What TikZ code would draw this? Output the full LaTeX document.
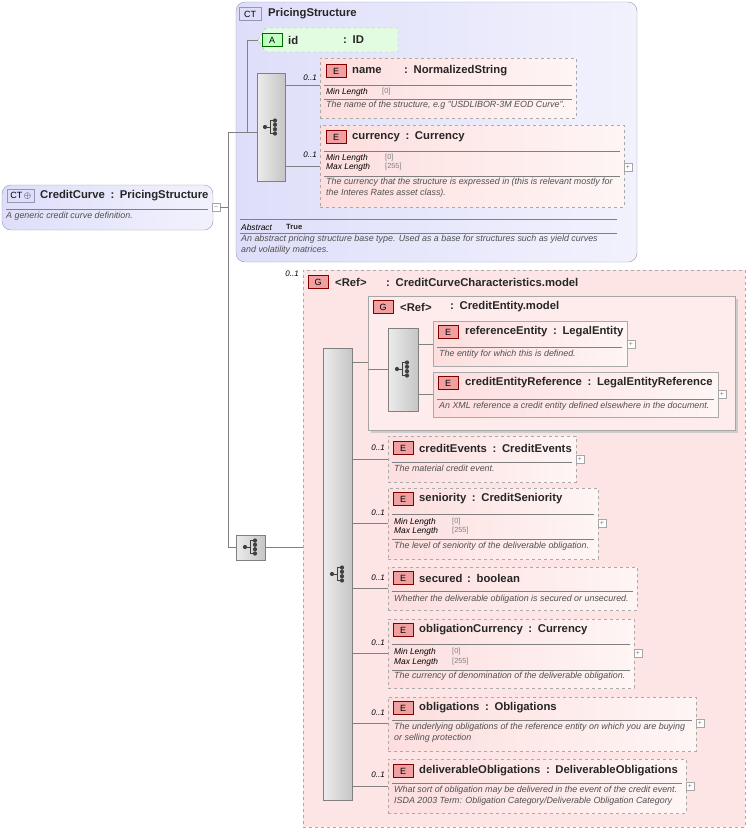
\documentclass[tikz,border=0pt]{standalone}
\usepackage{fontspec}
\setmainfont{Liberation Sans}
\usetikzlibrary{positioning,calc,shapes.geometric}
\definecolor{ctfill}{RGB}{222,222,250}
\definecolor{ctedge}{RGB}{150,150,180}
\definecolor{efill}{RGB}{253,222,222}
\definecolor{eedge}{RGB}{170,170,170}
\definecolor{badgeE}{RGB}{240,160,160}
\definecolor{afill}{RGB}{225,252,225}
\definecolor{txtgray}{RGB}{80,80,80}
\newcommand{\cl}{\enspace:\enspace}
\begin{document}
\begin{tikzpicture}[x=1pt,y=-1pt,
  ct/.style={draw=ctedge,rounded corners=9pt,left color=ctfill,right color=ctfill!40,inner sep=0pt,outer sep=0pt,anchor=north west},
  opt/.style={draw=eedge,dashed,left color=efill,right color=efill!30,inner sep=0pt,outer sep=0pt,anchor=north west},
  req/.style={draw=eedge,line width=0.7pt,left color=efill,right color=efill!30,inner sep=0pt,outer sep=0pt,anchor=north west},
  grp/.style={draw=eedge,dashed,fill=efill!80,inner sep=0pt,outer sep=0pt,anchor=north west},
  seqbar/.style={draw=gray,left color=gray!15,right color=gray!45,inner sep=0pt,outer sep=0pt,anchor=north west},
  badge/.style={draw=red!50!black,fill=badgeE,font=\fontsize{9}{9}\selectfont,minimum width=20pt,minimum height=13pt,inner sep=0pt,anchor=west},
  ttl/.style={font=\fontsize{11.3}{13}\selectfont\bfseries,text=black!85,anchor=west,inner sep=0pt},
  dsc/.style={font=\fontsize{8.9}{10.5}\selectfont\itshape,text=txtgray,anchor=north west,inner sep=0pt,align=left},
  key/.style={font=\fontsize{8.4}{9}\selectfont\itshape,anchor=west,inner sep=0pt},
  val/.style={font=\fontsize{7.4}{8}\selectfont,text=gray,anchor=west,inner sep=0pt},
  occ/.style={font=\fontsize{8}{9}\selectfont\itshape,anchor=east,inner sep=0pt},
  sep/.style={draw=gray,line width=0.4pt},
  link/.style={draw=gray,line width=0.5pt},
  plus/.style={draw=gray!70,fill=white,minimum size=8pt,inner sep=0pt,font=\fontsize{7}{7}\selectfont,text=gray}]
\useasboundingbox (0,0) rectangle (749,831);
\tikzset{seqicon/.pic={
  \fill[black!75] (-6,0) circle (2.1) (4,-6.5) circle (2.1) (4,-2.2) circle (2.1) (4,2.2) circle (2.1) (4,6.5) circle (2.1);
  \draw[black!75,line width=1pt] (-6,0) -- (-1,0) (-1,-6.5) -- (-1,6.5) (-1,-6.5) -- (4,-6.5) (-1,6.5) -- (4,6.5);}}

% CreditCurve
\node[ct,minimum width=211pt,minimum height=45pt] (cc) at (2,185) {};
\node[badge,draw=ctedge,fill=ctfill,minimum width=27pt] (ccb) at (7,196) {CT\,$\oplus$};
\node[ttl] (cct) at (40,196) {CreditCurve\cl PricingStructure};
\draw[sep] (6,209) -- (208,209);
\node[dsc] (ccd) at (6,212) {A generic credit curve definition.};
\node[plus] (ccm) at (216,207) {--};

% PricingStructure
\node[ct,minimum width=401pt,minimum height=260pt] (ps) at (236,2) {};
\node[badge,draw=ctedge,fill=ctfill,minimum width=22pt] (psb) at (239,14) {CT};
\node[ttl] (pst) at (268,14) {PricingStructure};
\draw[dashed,draw=eedge,fill=afill] (258,40) -- (266,28) -- (398,28) -- (398,52) -- (266,52) -- cycle;
\node[badge,draw=green!40!black,fill=green!25] (idb) at (262,40) {A};
\node[ttl] (idt) at (288,40) {id};
\node[ttl] (idc) at (343,40) {:\enspace ID};
\node[seqbar,minimum width=28pt,minimum height=108pt] (s1) at (257,73) {};
\pic at (271,127) {seqicon};

\node[opt,minimum width=256pt,minimum height=60pt] (nm) at (320,58) {};
\node[badge] (nmb) at (326,71) {E};
\node[ttl] (nmt) at (352,71) {name};
\node[ttl] (nmc) at (404,71) {:\enspace NormalizedString};
\draw[sep] (324,85) -- (572,85);
\node[key] (nmk) at (326,92) {Min Length};
\node[val] (nmv) at (382,92) {[0]};
\draw[sep] (324,99) -- (572,99);
\node[dsc] (nmd) at (326,101) {The name of the structure, e.g "USDLIBOR-3M EOD Curve".};
\node[occ] (nmo) at (317,78) {0..1};

\node[opt,minimum width=304pt,minimum height=82pt] (cu) at (320,125) {};
\node[badge] (cub) at (326,137) {E};
\node[ttl] (cut) at (352,137) {currency\cl Currency};
\draw[sep] (324,151) -- (620,151);
\node[key] (cuk1) at (326,158) {Min Length};
\node[val] (cuv1) at (385,158) {[0]};
\node[key] (cuk2) at (326,167) {Max Length};
\node[val] (cuv2) at (385,167) {[255]};
\draw[sep] (324,176) -- (620,176);
\node[dsc] (cud) at (326,178) {The currency that the structure is expressed in (this is relevant mostly for\\the Interes Rates asset class).};
\node[occ] (cuo) at (317,155) {0..1};
\node[plus] (cup) at (628,167) {+};

\draw[sep] (240,219) -- (617,219);
\node[key] (abk) at (241,227) {Abstract};
\node[ttl,font=\fontsize{7.6}{9}\selectfont\bfseries] (abv) at (286,227) {True};
\draw[sep] (240,233) -- (617,233);
\node[dsc] (psd) at (241,235) {An abstract pricing structure base type. Used as a base for structures such as yield curves\\and volatility matrices.};

% CreditCurveCharacteristics.model
\node[grp,minimum width=442pt,minimum height=557pt] (g1) at (303,270) {};
\node[occ] (g1o) at (299,274) {0..1};
\node[badge] (g1b) at (308,282) {G};
\node[ttl] (g1t) at (335,282) {<Ref>};
\node[ttl] (g1c) at (386,282) {:\enspace CreditCurveCharacteristics.model};
\node[seqbar,minimum width=29pt,minimum height=452pt] (s2) at (323,348) {};
\pic at (338,574) {seqicon};
\node[seqbar,minimum width=29pt,minimum height=25pt] (s0) at (236,535) {};
\pic at (251,547) {seqicon};

% CreditEntity.model
\draw[gray!40,line width=2pt] (371,432) -- (737,432) -- (737,299);
\node[draw=gray!70,fill=efill!60,inner sep=0,outer sep=0,anchor=north west,minimum width=367pt,minimum height=134pt] (g2) at (368,296) {};
\node[badge] (g2b) at (373,307) {G};
\node[ttl] (g2t) at (400,307) {<Ref>};
\node[ttl] (g2c) at (450,307) {:\enspace CreditEntity.model};
\node[seqbar,minimum width=30pt,minimum height=83pt] (s3) at (388,328) {};
\pic at (403,369) {seqicon};

\node[req,minimum width=194pt,minimum height=45pt] (re) at (433,321) {};
\node[badge] (reb) at (438,332) {E};
\node[ttl] (ret) at (465,332) {referenceEntity\cl LegalEntity};
\draw[sep] (437,347) -- (622,347);
\node[dsc] (red) at (439,350) {The entity for which this is defined.};
\node[plus] (rep) at (631,344) {+};

\node[req,minimum width=285pt,minimum height=45pt] (cr) at (433,372) {};
\node[badge] (crb) at (438,383) {E};
\node[ttl] (crt) at (465,383) {creditEntityReference\cl LegalEntityReference};
\draw[sep] (437,399) -- (714,399);
\node[dsc] (crd) at (439,402) {An XML reference a credit entity defined elsewhere in the document.};
\node[plus] (crp) at (722,394) {+};

% elements of the outer group
\node[opt,minimum width=188pt,minimum height=46pt] (ce) at (388,436) {};
\node[badge] (ceb) at (393,448) {E};
\node[ttl] (cet) at (419,448) {creditEvents\cl CreditEvents};
\draw[sep] (392,462) -- (572,462);
\node[dsc] (ced) at (394,465) {The material credit event.};
\node[occ] (ceo) at (385,448) {0..1};
\node[plus] (cep) at (580,459) {+};

\node[opt,minimum width=210pt,minimum height=71pt] (se) at (388,488) {};
\node[badge] (seb) at (393,499) {E};
\node[ttl] (set) at (419,499) {seniority\cl CreditSeniority};
\draw[sep] (392,514) -- (594,514);
\node[key] (sek1) at (394,522) {Min Length};
\node[val] (sev1) at (452,522) {[0]};
\node[key] (sek2) at (394,531) {Max Length};
\node[val] (sev2) at (452,531) {[255]};
\draw[sep] (392,539) -- (594,539);
\node[dsc] (sed) at (394,542) {The level of seniority of the deliverable obligation.};
\node[occ] (seo) at (385,513) {0..1};
\node[plus] (sep) at (602,523) {+};

\node[opt,minimum width=249pt,minimum height=43pt] (sc) at (388,567) {};
\node[badge] (scb) at (393,578) {E};
\node[ttl] (sct) at (419,578) {secured};
\node[ttl] (scc) at (467,578) {:\enspace boolean};
\draw[sep] (392,591) -- (633,591);
\node[dsc] (scd) at (394,595) {Whether the deliverable obligation is secured or unsecured.};
\node[occ] (sco) at (385,578) {0..1};

\node[opt,minimum width=246pt,minimum height=69pt] (oc) at (388,619) {};
\node[badge] (ocb) at (393,630) {E};
\node[ttl] (oct) at (419,630) {obligationCurrency\cl Currency};
\draw[sep] (392,644) -- (630,644);
\node[key] (ock1) at (394,652) {Min Length};
\node[val] (ocv1) at (452,652) {[0]};
\node[key] (ock2) at (394,662) {Max Length};
\node[val] (ocv2) at (452,662) {[255]};
\draw[sep] (392,670) -- (630,670);
\node[dsc] (ocd) at (394,672) {The currency of denomination of the deliverable obligation.};
\node[occ] (oco) at (385,643) {0..1};
\node[plus] (ocp) at (638,653) {+};

\node[opt,minimum width=308pt,minimum height=54pt] (ob) at (388,697) {};
\node[badge] (obb) at (393,708) {E};
\node[ttl] (obt) at (419,708) {obligations\cl Obligations};
\draw[sep] (392,720) -- (692,720);
\node[dsc] (obd) at (394,723) {The underlying obligations of the reference entity on which you are buying\\or selling protection};
\node[occ] (obo) at (385,713) {0..1};
\node[plus] (obp) at (700,723) {+};

\node[opt,minimum width=298pt,minimum height=54pt] (dl) at (388,759) {};
\node[badge] (dlb) at (393,771) {E};
\node[ttl] (dlt) at (419,771) {deliverableObligations\cl DeliverableObligations};
\draw[sep] (392,783) -- (682,783);
\node[dsc] (dld) at (394,786) {What sort of obligation may be delivered in the event of the credit event.\\ISDA 2003 Term: Obligation Category/Deliverable Obligation Category};
\node[occ] (dlo) at (385,775) {0..1};
\node[plus] (dlp) at (690,786) {+};

% connectors
\coordinate (trunk) at (228,132);
\draw[link] (ccm.east) -| (trunk) -- (s1.west |- trunk);
\draw[link] (247,132) |- (258,40);
\draw[link] (285,85) -- (320,85);
\draw[link] (285,166) -- (320,166);
\draw[link] (trunk) |- (s0.west);
\draw[link] (s0.east) -- (g1.west |- s0.east);
\draw[link] (352,362) -- (368,362);
\draw[link] (368,369) -- (s3.west |- 0,369);
\draw[link] (418,344) -- (433,344);
\draw[link] (418,394) -- (433,394);
\foreach \y in {459,523,588,653,723,786} \draw[link] (352,\y) -- (388,\y);
\end{tikzpicture}
\end{document}
